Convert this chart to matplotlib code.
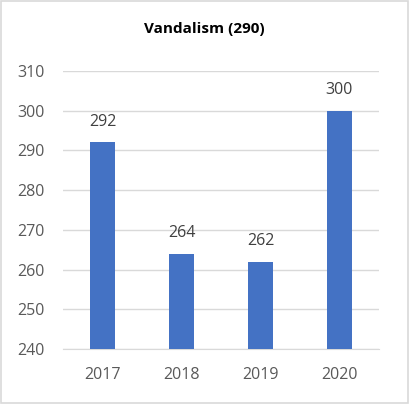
import matplotlib.pyplot as plt
from matplotlib.patches import Rectangle

years = ['2017', '2018', '2019', '2020']
counts = [292, 264, 262, 300]
title = 'Vandalism (290)'

plt.rcParams['font.family'] = ['Open Sans', 'DejaVu Sans']

fig = plt.figure(figsize=(4.09, 4.04), dpi=100)
ax = fig.add_axes([63/409, 1-349/404, 316/409, 278/404])

x = range(len(years))
ax.bar(x, counts, width=0.31, color='#4472C4', zorder=3, bottom=0)
ax.set_ylim(240, 310)
ax.set_xlim(-0.5, 3.5)
ax.set_yticks(range(240, 311, 10))
ax.set_xticks(list(x))
ax.set_xticklabels(years)
ax.grid(axis='y', color='#D9D9D9', linewidth=1, zorder=0)
for s in ['top', 'right', 'left']:
    ax.spines[s].set_visible(False)
ax.spines['bottom'].set_color('#D9D9D9')
ax.tick_params(length=0, labelsize=11.5, colors='#595959')
ax.tick_params(axis='x', pad=13)
ax.tick_params(axis='y', pad=13)

for i, v in enumerate(counts):
    ax.annotate(str(v), (i, v), xytext=(0, 15), textcoords='offset points',
                ha='center', va='center', fontsize=11.5, color='#404040')

fig.text(0.5, 1-29/404, title, ha='center', va='center', fontsize=11,
         fontweight='bold', color='black')

fig.patches.append(Rectangle((0.002, 0.002), 0.996, 0.996, transform=fig.transFigure,
                             fill=False, edgecolor='#D9D9D9', linewidth=1.2))

fig.savefig('out.png', dpi=100)
